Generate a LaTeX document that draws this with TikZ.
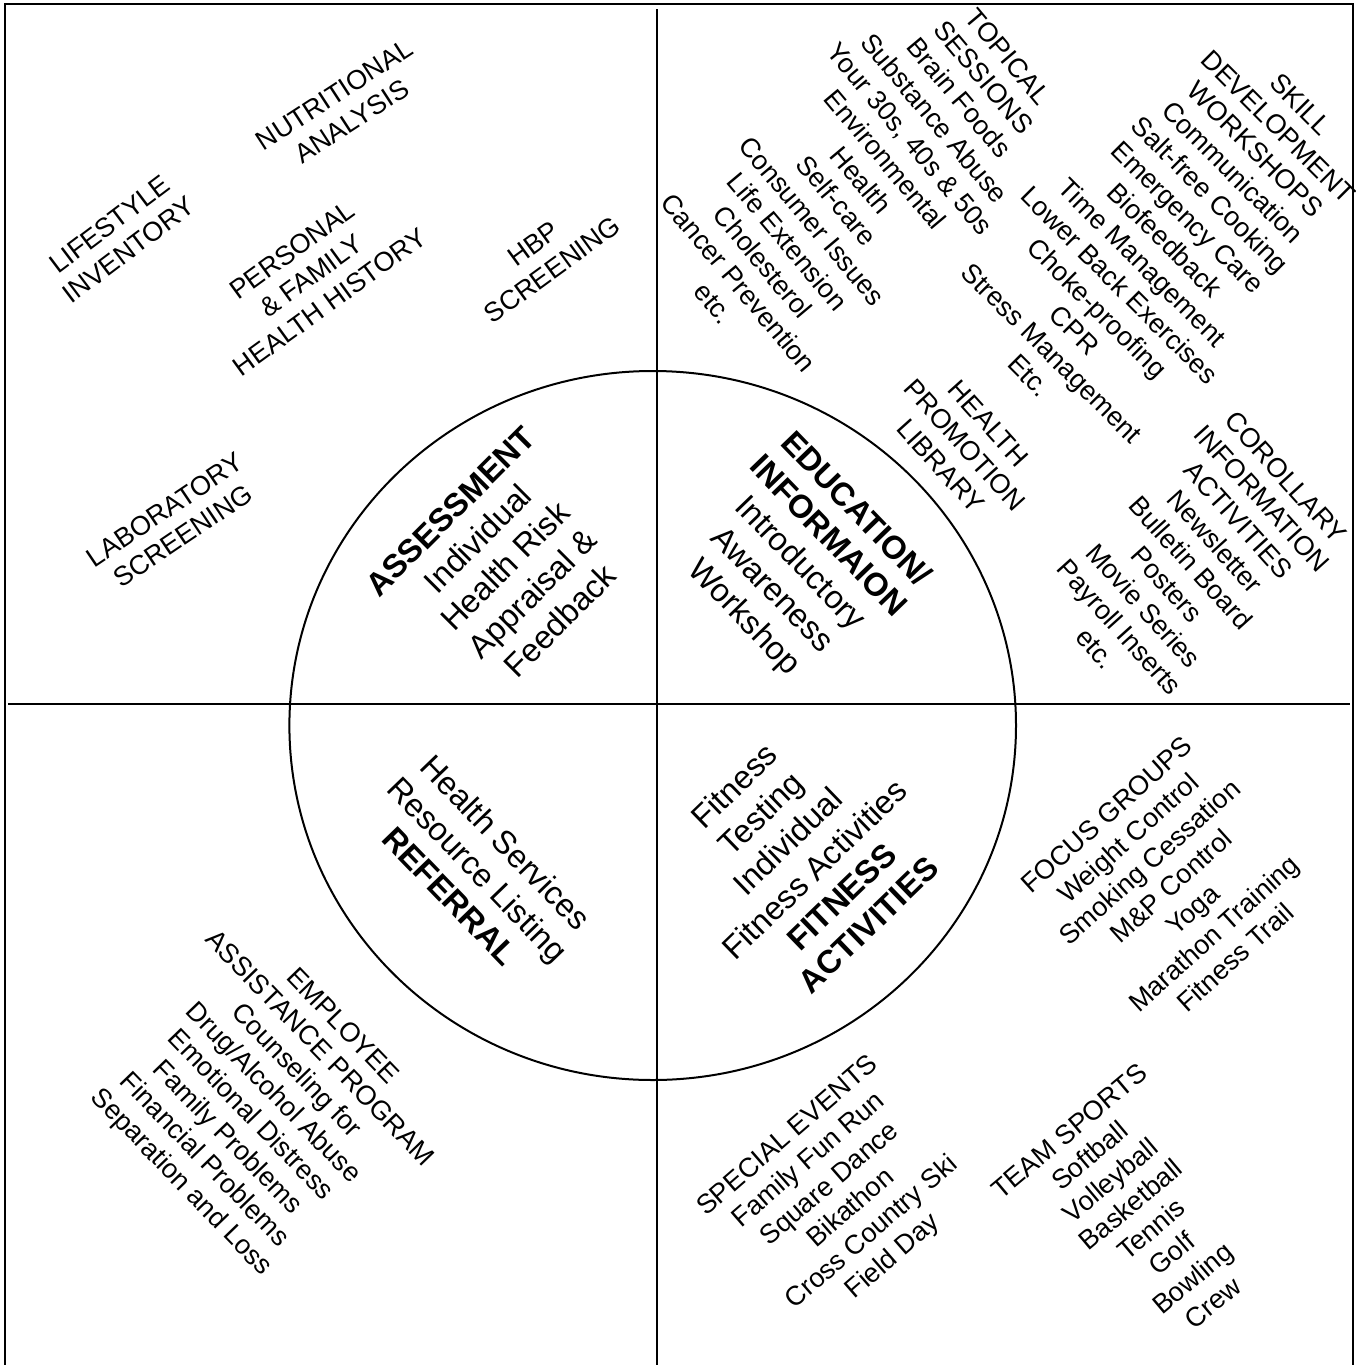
\documentclass[tikz,border=0pt]{standalone}
\usepackage{fontspec}
\setmainfont{Liberation Sans}
\begin{document}
\begin{tikzpicture}[x=1pt,y=-1pt,
  outer/.style={font=\fontsize{27}{32}\selectfont, align=center, inner sep=0pt},
  core/.style={font=\fontsize{32.5}{38.7}\selectfont, align=center, inner sep=0pt},
  rule/.style={line width=2pt, line cap=butt}]
\useasboundingbox (0,0) rectangle (1355,1365);
% frame and axes
\coordinate (fl) at (4.5,1372);
\coordinate (ftl) at (4.5,4);
\coordinate (ftr) at (1353,4);
\coordinate (fr) at (1353,1372);
\draw[rule] (fl) -- (ftl) -- (ftr) -- (fr);
\coordinate (vt) at (657,9);
\coordinate (vb) at (657,1372);
\coordinate (hl) at (8,704);
\coordinate (hr) at (1350,704);
\draw[rule] (vt) -- (vb);
\draw[rule] (hl) -- (hr);
\coordinate (cc) at (652.7,725.5);
\draw[rule] (cc) ellipse [x radius=363.3, y radius=354.5];

% top-left quadrant
\node[outer, rotate=37] (lifestyle) at (119,237) {LIFESTYLE\\INVENTORY};
\node[outer, rotate=33] (nutri) at (343,108) {NUTRITIONAL\\ANALYSIS};
\node[outer, rotate=36] (personal) at (311,276) {PERSONAL\\\& FAMILY\\HEALTH HISTORY};
\node[outer, rotate=36] (hbp) at (543,257) {HBP\\SCREENING};
\node[outer, rotate=34] (lab) at (174,523) {LABORATORY\\SCREENING};

% top-right quadrant
\node[outer, rotate=-50] (topical) at (861,180) {TOPICAL\\SESSIONS\\Brain Foods\\Substance Abuse\\Your 30s, 40s \& 50s\\Environmental\\Health\\Self-care\\Consumer Issues\\Life Extension\\Cholesterol\\Cancer Prevention\\etc.};
\node[outer, rotate=-45] (skill) at (1165,240) {SKILL\\DEVELOPMENT\\WORKSHOPS\\Communication\\Salt-free Cooking\\Emergency Care\\Biofeedback\\Time Management\\Lower Back Exercises\\Choke-proofing\\CPR\\Stress Management\\Etc.};
\node[outer, rotate=-48] (library) at (965,445) {HEALTH\\PROMOTION\\LIBRARY};
\node[outer, rotate=-48] (corollary) at (1191,563) {COROLLARY\\INFORMATION\\ACTIVITIES\\Newsletter\\Bulletin Board\\Posters\\Movie Series\\Payroll Inserts\\etc.};

% bottom-left quadrant
\node[outer, rotate=-46] (eap) at (261,1105) {EMPLOYEE\\ASSISTANCE PROGRAM\\Counseling for\\Drug/Alcohol Abuse\\Emotional Distress\\Family Problems\\Financial Problems\\Separation and Loss};

% bottom-right quadrant
\node[outer, rotate=42] (focus) at (1171,886) {FOCUS GROUPS\\Weight Control\\Smoking Cessation\\M\&P Control\\Yoga\\Marathon Training\\Fitness Trail};
\node[outer, rotate=41] (special) at (841,1197) {SPECIAL EVENTS\\Family Fun Run\\Square Dance\\Bikathon\\Cross Country Ski\\Field Day};
\node[outer, rotate=40] (team) at (1141,1217) {TEAM SPORTS\\Softball\\Volleyball\\Basketball\\Tennis\\Golf\\Bowling\\Crew};

% inside the circle
\node[core, rotate=45] (assess) at (505,566) {\textbf{ASSESSMENT}\\Individual\\Health Risk\\Appraisal \&\\Feedback};
\node[core, rotate=-46] (educ) at (799,564) {\textbf{EDUCATION/}\\\textbf{INFORMAION}\\Introductory\\Awareness\\Workshop};
\node[core, rotate=-46] (referral) at (478,869) {Health Services\\Resource Listing\\\textbf{REFERRAL}};
\node[core, rotate=44] (fitness) at (801,855) {Fitness\\Testing\\Individual\\Fitness Activities\\\textbf{FITNESS}\\\textbf{ACTIVITIES}};
\end{tikzpicture}
\end{document}
